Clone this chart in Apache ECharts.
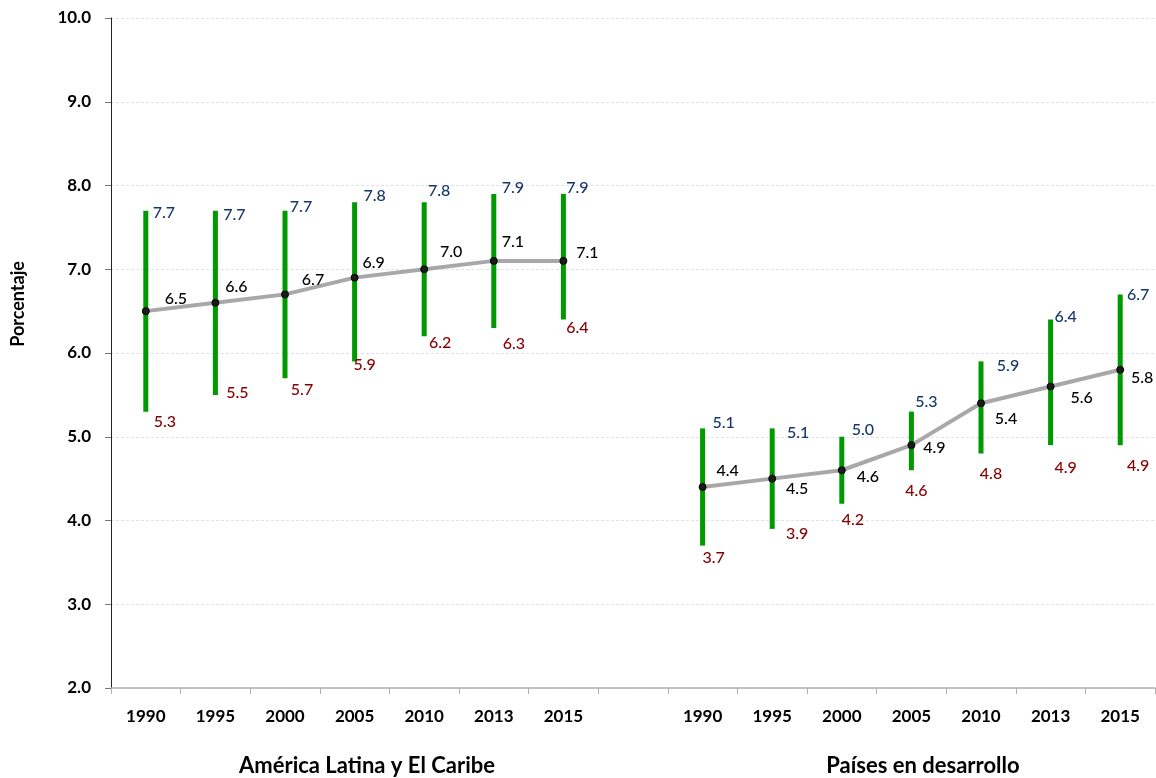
<!DOCTYPE html>
<html>
<head>
<meta charset="utf-8">
<script src="https://cdn.jsdelivr.net/npm/echarts@6/dist/echarts.min.js"></script>
<style>
html,body{margin:0;padding:0;background:#fff;}
#chart{width:1156px;height:778px;}
</style>
</head>
<body>
<div id="chart"></div>
<script>
// ---- data ----
const years = ['1990', '1995', '2000', '2005', '2010', '2013', '2015'];
const groupNames = ['América Latina y El Caribe', 'Países en desarrollo'];
const yAxisName = 'Porcentaje';
const yTicks = { min: 2, max: 10, interval: 1 };

const alcMid  = [6.5, 6.6, 6.7, 6.9, 7.0, 7.1, 7.1];
const alcHigh = [7.7, 7.7, 7.7, 7.8, 7.8, 7.9, 7.9];
const alcLow  = [5.3, 5.5, 5.7, 5.9, 6.2, 6.3, 6.4];

const pedMid  = [4.4, 4.5, 4.6, 4.9, 5.4, 5.6, 5.8];
const pedHigh = [5.1, 5.1, 5.0, 5.3, 5.9, 6.4, 6.7];
const pedLow  = [3.7, 3.9, 4.2, 4.6, 4.8, 4.9, 4.9];

// ---- label placement (style, pixel offsets from the mark) ----
const midOffsets  = [[30,-12],[21,-16],[28,-15],[19,-15],[27,-17],[19,-19],[24,-8],
                     [25,-16],[25,10],[26,7],[23,3],[25,16],[31,11],[22,8]];
const highOffsets = [[18,2],[19,4],[16,-4],[20,-6],[15,-11],[19,-6],[14,-6],
                     [21,-6],[26,4],[21,-7],[15,-10],[27,4],[15,-3],[18,0]];
const lowOffsets  = [[19,10],[22,-2],[17,12],[10,3],[16,7],[20,16],[14,8],
                     [11,12],[25,5],[11,16],[5,21],[10,20],[15,23],[18,21]];

// ---- build ----
const axisLabels = years.concat([''], years);
const mids = alcMid.concat([null], pedMid);
const rangeData = [];
const pointData = [];
let k = 0;
function addGroup(mid, lo, hi, start) {
  for (let i = 0; i < mid.length; i++) {
    const idx = start + i;
    rangeData.push({ value: [idx, lo[i], hi[i]], off: k });
    pointData.push({ value: [idx, mid[i]], off: k });
    k++;
  }
}
addGroup(alcMid, alcLow, alcHigh, 0);
addGroup(pedMid, pedLow, pedHigh, years.length + 1);

const FONT = 'Lato, "Open Sans", sans-serif';
const chart = echarts.init(document.getElementById('chart'), null, { renderer: 'canvas' });

chart.setOption({
  animation: false,
  backgroundColor: '#ffffff',
  grid: { left: 111, right: 1, top: 18, bottom: 90, containLabel: false },
  xAxis: {
    type: 'category',
    data: axisLabels.map((_, i) => 'c' + i),
    boundaryGap: true,
    axisLine: { show: true, lineStyle: { color: '#b0b0b0', width: 1.5 } },
    axisTick: { show: true, length: 6, lineStyle: { color: '#b0b0b0' }, alignWithLabel: false },
    axisLabel: {
      formatter: (v, i) => axisLabels[i],
      interval: 0,
      margin: 20,
      color: '#000',
      fontFamily: FONT,
      fontWeight: 'bold',
      fontSize: 17
    },
    splitLine: { show: false }
  },
  yAxis: {
    type: 'value',
    min: yTicks.min,
    max: yTicks.max,
    interval: yTicks.interval,
    axisLine: { show: true, lineStyle: { color: '#222', width: 1 } },
    axisTick: { show: true, length: 6, lineStyle: { color: '#777' } },
    axisLabel: {
      formatter: v => v.toFixed(1),
      margin: 20,
      color: '#000',
      fontFamily: FONT,
      fontWeight: 'bold',
      fontSize: 17
    },
    splitLine: { show: true, lineStyle: { color: '#dbe3ee', type: [3, 2], width: 1 } }
  },
  graphic: [
    {
      type: 'text', x: 18, y: 304, rotation: Math.PI / 2,
      style: { text: yAxisName, fill: '#000', font: 'bold 18px ' + FONT, align: 'center', verticalAlign: 'middle' }
    },
    {
      type: 'text', x: 367, y: 766,
      style: { text: groupNames[0], fill: '#000', font: 'bold 22px ' + FONT, align: 'center', verticalAlign: 'middle' }
    },
    {
      type: 'text', x: 923, y: 766,
      style: { text: groupNames[1], fill: '#000', font: 'bold 22px ' + FONT, align: 'center', verticalAlign: 'middle' }
    }
  ],
  series: [
    {
      type: 'line',
      data: mids,
      connectNulls: false,
      showSymbol: false,
      symbol: 'none',
      lineStyle: { color: '#a8a8a8', width: 4 },
      z: 1
    },
    {
      type: 'custom',
      data: rangeData,
      z: 2,
      renderItem: function (params, api) {
        const idx = api.value(0);
        const lo = api.value(1);
        const hi = api.value(2);
        const pLo = api.coord([idx, lo]);
        const pHi = api.coord([idx, hi]);
        const o = rangeData[params.dataIndex].off;
        const w = 5;
        return {
          type: 'group',
          children: [
            {
              type: 'rect',
              shape: { x: pHi[0] - w / 2, y: pHi[1], width: w, height: pLo[1] - pHi[1] },
              style: { fill: '#009900' }
            },
            {
              type: 'text',
              x: pHi[0] + highOffsets[o][0], y: pHi[1] + highOffsets[o][1],
              style: { text: hi.toFixed(1), fill: '#17366b', font: '500 16px ' + FONT, align: 'center', verticalAlign: 'middle' }
            },
            {
              type: 'text',
              x: pLo[0] + lowOffsets[o][0], y: pLo[1] + lowOffsets[o][1],
              style: { text: lo.toFixed(1), fill: '#870000', font: '500 16px ' + FONT, align: 'center', verticalAlign: 'middle' }
            }
          ]
        };
      }
    },
    {
      type: 'custom',
      data: pointData,
      z: 3,
      renderItem: function (params, api) {
        const idx = api.value(0);
        const v = api.value(1);
        const p = api.coord([idx, v]);
        const o = pointData[params.dataIndex].off;
        return {
          type: 'group',
          children: [
            {
              type: 'circle',
              shape: { cx: p[0], cy: p[1], r: 3.5 },
              style: { fill: '#1b1b1b', stroke: '#000', lineWidth: 1 }
            },
            {
              type: 'text',
              x: p[0] + midOffsets[o][0], y: p[1] + midOffsets[o][1],
              style: { text: v.toFixed(1), fill: '#000', font: '500 16px ' + FONT, align: 'center', verticalAlign: 'middle' }
            }
          ]
        };
      }
    }
  ]
});
</script>
</body>
</html>
